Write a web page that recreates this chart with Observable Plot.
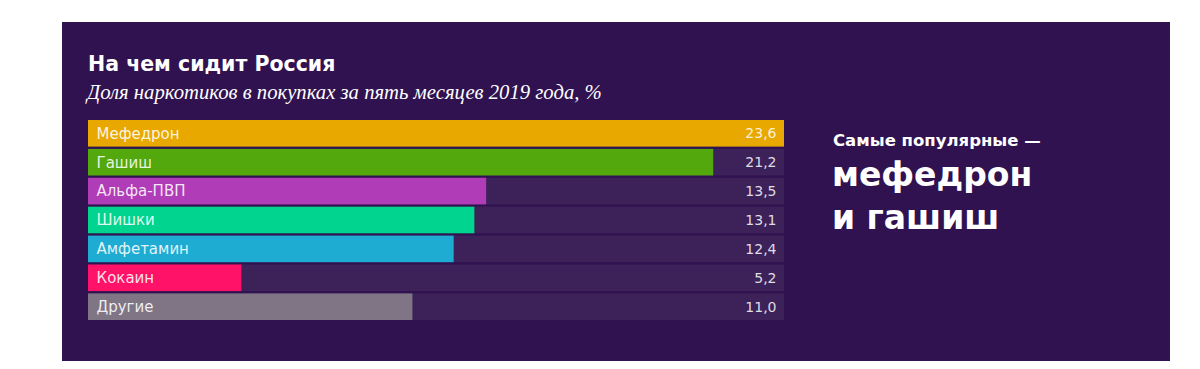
<!DOCTYPE html>
<html>
<head>
<meta charset="utf-8">
<script src="https://cdn.jsdelivr.net/npm/d3@7"></script>
<script src="https://cdn.jsdelivr.net/npm/@observablehq/plot@0.6"></script>
<style>
  html, body { margin: 0; padding: 0; background: #ffffff; width: 1200px; height: 369px; overflow: hidden; }
  #panel { position: absolute; left: 62px; top: 22px; width: 1108px; height: 339px; background: #301250; }
  #title { position: absolute; left: 26px; top: 30px; font-family: "DejaVu Sans", sans-serif; font-weight: 700; font-size: 20.5px; color: #ffffff; white-space: nowrap; }
  #subtitle { position: absolute; left: 25px; top: 59px; font-family: "Liberation Serif", "DejaVu Serif", serif; font-style: italic; font-size: 20.7px; color: #ffffff; white-space: nowrap; }
  #chart { position: absolute; left: 26px; top: 96px; line-height: 0; }
  #note1 { position: absolute; left: 771px; top: 109px; font-family: "DejaVu Sans", sans-serif; font-weight: 700; font-size: 16.5px; color: #ffffff; white-space: nowrap; }
  #note2 { position: absolute; left: 770px; top: 131px; font-family: "DejaVu Sans", sans-serif; font-weight: 700; font-size: 33px; line-height: 43px; color: #ffffff; white-space: nowrap; }
</style>
</head>
<body>
<div id="panel">
  <div id="title">На чем сидит Россия</div>
  <div id="subtitle">Доля наркотиков в покупках за пять месяцев 2019 года, %</div>
  <div id="chart"></div>
  <div id="note1">Самые популярные —</div>
  <div id="note2">мефедрон<br>и гашиш</div>
</div>
<script>
const categories = ["Мефедрон", "Гашиш", "Альфа-ПВП", "Шишки", "Амфетамин", "Кокаин", "Другие"];
const values = [23.6, 21.2, 13.5, 13.1, 12.4, 5.2, 11.0];
const colors = ["#e8a800", "#52a80c", "#b03cb8", "#00d48e", "#1eacd2", "#ff1268", "#7f7585"];

const data = categories.map((name, i) => ({ name, value: values[i], color: colors[i] }));
const maxValue = d3.max(values);
const fmt = v => v.toFixed(1).replace(".", ",");

const chart = Plot.plot({
  width: 696,
  height: 204,
  marginTop: 2,
  marginBottom: 2,
  marginLeft: 0,
  marginRight: 0,
  style: { background: "transparent", fontFamily: "'DejaVu Sans', sans-serif" },
  x: { domain: [0, maxValue], axis: null },
  y: { domain: categories, axis: null, paddingInner: 0.08, paddingOuter: 0, round: false },
  color: { type: "identity" },
  marks: [
    Plot.barX(data, { y: "name", x1: 0, x2: maxValue, fill: "#3d2259" }),
    Plot.barX(data, { y: "name", x1: 0, x2: "value", fill: "color" }),
    Plot.text(data, { y: "name", x: 0, text: "name", textAnchor: "start", dx: 8, fill: "#ffffff", fillOpacity: 0.88, fontSize: 15 }),
    Plot.text(data, { y: "name", x: maxValue, text: d => fmt(d.value), textAnchor: "end", dx: -8, fill: "#ffffff", fillOpacity: 0.85, fontSize: 14 })
  ]
});
document.getElementById("chart").appendChild(chart);
</script>
</body>
</html>
